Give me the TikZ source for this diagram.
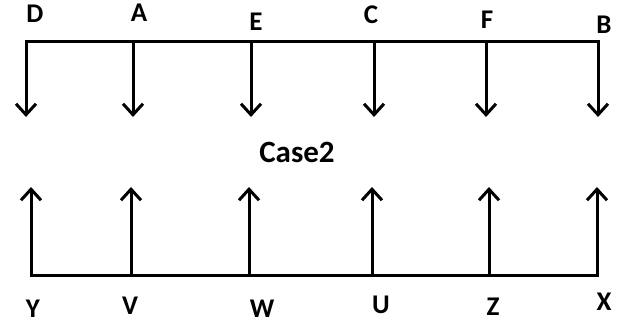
\documentclass[tikz,border=0pt]{standalone}
\usepackage{fontspec}
\setmainfont{Carlito}
\usetikzlibrary{arrows.meta}
\tikzset{
    %Define standard arrow tip
    >={Straight Barb[length=11pt,width=20pt]},
    %Define style for the letters
    lbl/.style={
           font=\bfseries\fontsize{27}{30}\selectfont,
           inner sep=0pt},
    % Define arrow style
    pil/.style={
           ->,
           line width=3pt},
    % both ends
    rail/.style={
           <->,
           line width=3pt}
}

\begin{document}
\begin{tikzpicture}[x=1pt,y=-1pt]
  \useasboundingbox (0,0) rectangle (625,326);
  % top row
  \coordinate (tD) at (26,42);  \coordinate (hD) at (26,117);
  \coordinate (tA) at (133,42); \coordinate (hA) at (133,117);
  \coordinate (tE) at (251,42); \coordinate (hE) at (251,117);
  \coordinate (tC) at (374,42); \coordinate (hC) at (374,117);
  \coordinate (tF) at (486,42); \coordinate (hF) at (486,117);
  \coordinate (tB) at (598,42); \coordinate (hB) at (598,117);
  \node[lbl] (D) at (35,14) {D};
  \node[lbl] (A) at (139,13) {A};
  \node[lbl] (E) at (256,22) {E};
  \node[lbl] (C) at (371,15) {C};
  \node[lbl] (F) at (487,20) {F};
  \node[lbl] (B) at (604,25) {B};
  \draw[rail] (hD) -- (tD) -- (tB) -- (hB);
  \draw[pil] (tA) -- (hA);
  \draw[pil] (tE) -- (hE);
  \draw[pil] (tC) -- (hC);
  \draw[pil] (tF) -- (hF);

  \node[lbl,font=\bfseries\fontsize{31}{34}\selectfont] (case) at (297,152) {Case2};

  % bottom row
  \coordinate (bY) at (31,276);  \coordinate (uY) at (31,187);
  \coordinate (bV) at (131,276); \coordinate (uV) at (131,187);
  \coordinate (bW) at (249,276); \coordinate (uW) at (249,187);
  \coordinate (bU) at (372,276); \coordinate (uU) at (372,187);
  \coordinate (bZ) at (489,276); \coordinate (uZ) at (489,187);
  \coordinate (bX) at (597,276); \coordinate (uX) at (597,187);
  \node[lbl] (Y) at (33,309) {Y};
  \node[lbl] (V) at (130,306) {V};
  \node[lbl] (W) at (262,309) {W};
  \node[lbl] (U) at (381,305) {U};
  \node[lbl] (Z) at (493,307) {Z};
  \node[lbl] (X) at (604,302) {X};
  \draw[rail] (uY) -- (bY) -- (bX) -- (uX);
  \draw[pil] (bV) -- (uV);
  \draw[pil] (bW) -- (uW);
  \draw[pil] (bU) -- (uU);
  \draw[pil] (bZ) -- (uZ);
\end{tikzpicture}
\end{document}
